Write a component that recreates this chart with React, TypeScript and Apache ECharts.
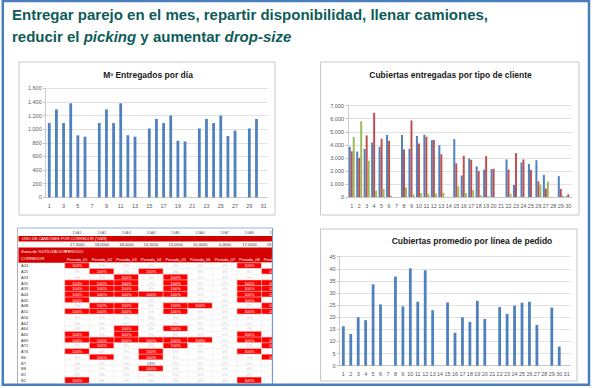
import React, { useEffect, useRef } from 'react';
import * as echarts from 'echarts';

// ---------- DATA ----------
const days31 = ['1','2','3','4','5','6','7','8','9','10','11','12','13','14','15','16','17','18','19','20','21','22','23','24','25','26','27','28','29','30','31'];
const days30 = ['1','2','3','4','5','6','7','8','9','10','11','12','13','14','15','16','17','18','19','20','21','22','23','24','25','26','27','28','29','30'];

const m3Delivered = [1090,1290,1090,1380,910,890,null,1090,1290,1090,1380,910,890,null,1010,1150,1090,1200,830,820,null,1010,1150,1090,1200,900,980,null,1010,1150,null];

const coversClientBlue = [3850,3480,3680,4180,3850,4760,null,4760,3700,4680,4780,4350,3970,null,4440,1650,2950,2350,2100,2140,null,2880,920,2650,2530,2820,1700,null,1600,50];
const coversClientRed = [3500,3000,4720,6450,4470,4300,null,3650,5870,4100,4620,4370,3280,null,2580,3160,2850,2000,3140,2170,null,2100,3350,2880,2070,1200,650,null,620,200];
const coversClientGreen = [4600,5800,2780,480,620,100,null,720,200,300,250,270,320,null,820,310,530,150,60,0,null,250,0,0,0,920,1180,null,100,0];

const coversPerLine = [16.3,13.1,20,18.8,33.6,25.3,null,36.8,24.5,40.2,26.4,39.4,22.9,null,26.1,13.6,20,18.1,26.8,19.3,null,24.2,21.4,24.8,26,26.4,16.8,null,24,7.9,null];

const tableDayHeaders = ['DIA1','DIA2','DIA3','DIA4','DIA5','DIA6','DIA7','DIA8','DIA9'];
const tableTrucks = ['17,0000','18,0000','18,0000','14,3410','13,0000','10,0000','0,0000','17,0000','18,0000'];
const tablePeriods = ['Periodo_01','Periodo_02','Periodo_03','Periodo_04','Periodo_05','Periodo_06','Periodo_07','Periodo_08','Periodo_09'];
const tableCorridors = ['A24','A25','A33','A35','A39','A44','A45','A48','A55','A56','A62','A64','A65','A69','A72','A76','B6','B7','B8','B1','B2'];
const tableUsage = [
  [100,0,0,0,0,0,0,100,0],
  [0,100,0,100,0,0,0,0,100],
  [0,0,100,0,100,0,0,0,0],
  [100,100,100,0,100,0,0,100,100],
  [100,100,100,0,100,0,0,100,100],
  [100,100,100,100,100,0,0,100,100],
  [100,0,0,0,0,0,0,100,0],
  [0,100,100,0,100,100,0,0,100],
  [100,100,100,0,100,0,0,100,100],
  [0,0,0,0,0,0,0,0,0],
  [0,0,0,0,0,0,0,0,0],
  [0,0,100,0,100,0,0,0,0],
  [100,0,100,0,0,0,0,100,0],
  [100,100,100,100,100,100,0,100,100],
  [0,100,0,0,100,0,0,0,100],
  [100,0,0,100,0,0,0,100,0],
  [0,100,0,100,0,0,0,0,100],
  [0,0,0,24,0,0,0,0,0],
  [0,0,0,100,0,0,0,0,0],
  [0,0,0,0,0,0,0,0,0],
  [100,0,0,0,0,0,0,100,0],
];

const FONT = '"Liberation Sans", Arial, sans-serif';
const BLUE = '#4f81bd';
const RED = '#c0504d';
const GREEN = '#9bbb59';

const dots = (v: number) => String(v).replace(/\B(?=(\d{3})+(?!\d))/g, '.');

function buildOption() {
  const axisLabelStyle = { fontSize: 5.5, color: '#595959', fontFamily: FONT };
  const gridLine = { show: true, lineStyle: { color: '#d9d9d9', width: 0.8 } };
  const axisLn = { show: true, lineStyle: { color: '#bfbfbf', width: 0.8 } };

  const heatData: any[] = [];
  tableUsage.forEach((row, r) => {
    row.forEach((v, c) => {
      const full = v >= 100;
      heatData.push({
        value: [c, r, v],
        itemStyle: {
          borderColor: full ? '#ffd0d0' : '#ececec',
          borderWidth: 0.6,
        },
        label: { color: full ? '#ffffff' : v > 0 ? '#333333' : '#c8c8c8' },
      });
    });
  });

  const tableGrid = { left: 65, top: 263, width: 221.4, height: 120 };

  return {
    animation: false,
    backgroundColor: '#ffffff',
    visualMap: {
      show: false, type: 'piecewise', seriesIndex: 5, dimension: 2,
      pieces: [
        { gte: 100, color: '#ff0000' },
        { lt: 100, color: '#ffffff' },
      ],
    },
    title: [
      {
        text: 'Entregar parejo en el mes, repartir disponibilidad, llenar camiones,\n{n|reducir el }{i|picking}{n| y aumentar }{i|drop-size}',
        left: 12, top: 3, padding: 0,
        textStyle: {
          fontFamily: FONT, fontSize: 15, fontWeight: 'bold', color: '#0e5c59', lineHeight: 22,
          rich: {
            n: { fontFamily: FONT, fontSize: 15, fontWeight: 'bold', color: '#0e5c59', lineHeight: 22 },
            i: { fontFamily: FONT, fontSize: 15, fontWeight: 'bold', fontStyle: 'italic', color: '#0e5c59', lineHeight: 22 },
          },
        },
      },
      { text: 'M³ Entregados por día', left: 148, top: 70.5, textAlign: 'center', padding: 0,
        textStyle: { fontFamily: FONT, fontSize: 8.5, fontWeight: 'bold', color: '#1a1a1a' } },
      { text: 'Cubiertas entregadas por tipo de cliente', left: 450.5, top: 70.5, textAlign: 'center', padding: 0,
        textStyle: { fontFamily: FONT, fontSize: 8.5, fontWeight: 'bold', color: '#1a1a1a' } },
      { text: 'Cubiertas promedio por línea de pedido', left: 472, top: 236.5, textAlign: 'center', padding: 0,
        textStyle: { fontFamily: FONT, fontSize: 8.5, fontWeight: 'bold', color: '#1a1a1a' } },
    ],
    grid: [
      { left: 45.7, top: 88.3, width: 221.5, height: 109 },
      { left: 348, top: 105.7, width: 224, height: 91.3 },
      { left: 339.6, top: 256.7, width: 230.8, height: 109 },
      tableGrid,
    ],
    xAxis: [
      { gridIndex: 0, type: 'category', data: days31, axisLine: axisLn, axisTick: { show: false },
        axisLabel: { ...axisLabelStyle, interval: 1, margin: 6 } },
      { gridIndex: 1, type: 'category', data: days30, axisLine: axisLn, axisTick: { show: false },
        axisLabel: { ...axisLabelStyle, interval: 0, margin: 6, hideOverlap: false } },
      { gridIndex: 2, type: 'category', data: days31, axisLine: axisLn, axisTick: { show: false },
        axisLabel: { ...axisLabelStyle, interval: 0, margin: 5, hideOverlap: false } },
      { gridIndex: 3, type: 'category', data: tablePeriods, position: 'top', z: 5,
        axisLine: { show: false }, axisTick: { show: false },
        axisLabel: { fontSize: 4, color: '#ffffff', fontFamily: FONT, margin: 2, interval: 0, hideOverlap: false } },
      { gridIndex: 3, type: 'category', data: tableTrucks, position: 'top', offset: 14.5, z: 5,
        axisLine: { show: false }, axisTick: { show: false },
        axisLabel: { fontSize: 4, color: '#333333', fontFamily: FONT, margin: 2, interval: 0, hideOverlap: false } },
      { gridIndex: 3, type: 'category', data: tableDayHeaders, position: 'top', offset: 26.5, z: 5,
        axisLine: { show: false }, axisTick: { show: false },
        axisLabel: { fontSize: 4, color: '#666666', fontFamily: FONT, margin: 2, interval: 0, hideOverlap: false } },
    ],
    yAxis: [
      { gridIndex: 0, type: 'value', min: 0, max: 1600, interval: 200, axisLine: axisLn,
        axisTick: { show: true, length: 2.5, lineStyle: { color: '#bfbfbf' } }, splitLine: gridLine,
        axisLabel: { ...axisLabelStyle, margin: 4, formatter: (v: number) => dots(v) } },
      { gridIndex: 1, type: 'value', min: 0, max: 7000, interval: 1000, axisLine: axisLn,
        axisTick: { show: true, length: 2.5, lineStyle: { color: '#bfbfbf' } }, splitLine: gridLine,
        axisLabel: { ...axisLabelStyle, margin: 4, formatter: (v: number) => dots(v) } },
      { gridIndex: 2, type: 'value', min: 0, max: 45, interval: 5, axisLine: axisLn,
        axisTick: { show: true, length: 2.5, lineStyle: { color: '#bfbfbf' } }, splitLine: gridLine,
        axisLabel: { ...axisLabelStyle, margin: 4 } },
      { gridIndex: 3, type: 'category', data: tableCorridors, inverse: true, z: 5,
        axisLine: { show: false }, axisTick: { show: false }, splitLine: { show: false },
        axisLabel: { fontSize: 4, color: '#333333', fontFamily: FONT, align: 'left', margin: 44, interval: 0 } },
    ],
    series: [
      { type: 'bar', xAxisIndex: 0, yAxisIndex: 0, data: m3Delivered, barWidth: 2.8, itemStyle: { color: BLUE } },
      { type: 'bar', xAxisIndex: 1, yAxisIndex: 1, data: coversClientBlue, barWidth: 2, barGap: '0%', itemStyle: { color: BLUE } },
      { type: 'bar', xAxisIndex: 1, yAxisIndex: 1, data: coversClientRed, barWidth: 2, barGap: '0%', itemStyle: { color: RED } },
      { type: 'bar', xAxisIndex: 1, yAxisIndex: 1, data: coversClientGreen, barWidth: 2, barGap: '0%', itemStyle: { color: GREEN } },
      { type: 'bar', xAxisIndex: 2, yAxisIndex: 2, data: coversPerLine, barWidth: 2.8, itemStyle: { color: BLUE } },
      { type: 'heatmap', xAxisIndex: 3, yAxisIndex: 3, data: heatData, z: 3,
        label: { show: true, fontSize: 4, fontFamily: FONT, formatter: (p: any) => p.value[2] + '%' } },
    ],
    graphic: [
      // table header bands
      { type: 'rect', z: -1, shape: { x: 18.5, y: 236, width: 254, height: 5.5 }, style: { fill: '#d40000' } },
      { type: 'rect', z: -1, shape: { x: 18.5, y: 247.5, width: 254, height: 15.3 }, style: { fill: '#d40000' } },
      { type: 'text', z: 6, x: 22, y: 238.8, style: { text: 'USO DE CAMIONES POR CORREDOR (%M3)', fill: '#ffffff', fontSize: 4, fontFamily: FONT, verticalAlign: 'middle' } },
      { type: 'text', z: 6, x: 21, y: 251.5, style: { text: 'Suma de %UTILIZACION', fill: '#ffffff', fontSize: 4, fontFamily: FONT, verticalAlign: 'middle' } },
      { type: 'text', z: 6, x: 65, y: 251.5, style: { text: 'PERIODO', fill: '#ffffff', fontSize: 4, fontFamily: FONT, verticalAlign: 'middle' } },
      { type: 'text', z: 6, x: 21, y: 258.8, style: { text: 'CORREDOR', fill: '#ffffff', fontSize: 4, fontFamily: FONT, verticalAlign: 'middle' } },
      // cover the clipped part of the table
      { type: 'rect', z: 50, shape: { x: 272.5, y: 222, width: 46, height: 163 }, style: { fill: '#ffffff' } },
      // panel borders
      { type: 'rect', z: 60, shape: { x: 19, y: 62, width: 256, height: 153 }, style: { fill: 'none', stroke: '#c6c6c6', lineWidth: 1 } },
      { type: 'rect', z: 60, shape: { x: 320.5, y: 62, width: 258.5, height: 153 }, style: { fill: 'none', stroke: '#c6c6c6', lineWidth: 1 } },
      { type: 'rect', z: 60, shape: { x: 320.5, y: 229, width: 256.5, height: 152 }, style: { fill: 'none', stroke: '#c6c6c6', lineWidth: 1 } },
      { type: 'line', z: 60, shape: { x1: 17.5, y1: 228, x2: 17.5, y2: 384 }, style: { stroke: '#b0b0b0', lineWidth: 1 } },
      { type: 'line', z: 60, shape: { x1: 17.5, y1: 228, x2: 272.5, y2: 228 }, style: { stroke: '#9bb3d3', lineWidth: 1 } },
      { type: 'line', z: 60, shape: { x1: 272.5, y1: 228, x2: 272.5, y2: 384 }, style: { stroke: '#7f9cc8', lineWidth: 1.2 } },
      // outer slide frame
      { type: 'rect', z: 70, shape: { x: 2.8, y: 1, width: 586.2, height: 383.7 }, style: { fill: 'none', stroke: '#4a7ebb', lineWidth: 2.5 } },
    ],
  };
}

export default function App() {
  const ref = useRef<HTMLDivElement>(null);
  useEffect(() => {
    document.body.style.margin = '0';
    if (!ref.current) return;
    const chart = echarts.init(ref.current, undefined, { renderer: 'svg' });
    chart.setOption(buildOption() as any);
    return () => chart.dispose();
  }, []);
  return <div ref={ref} style={{ width: 593, height: 388 }} />;
}
